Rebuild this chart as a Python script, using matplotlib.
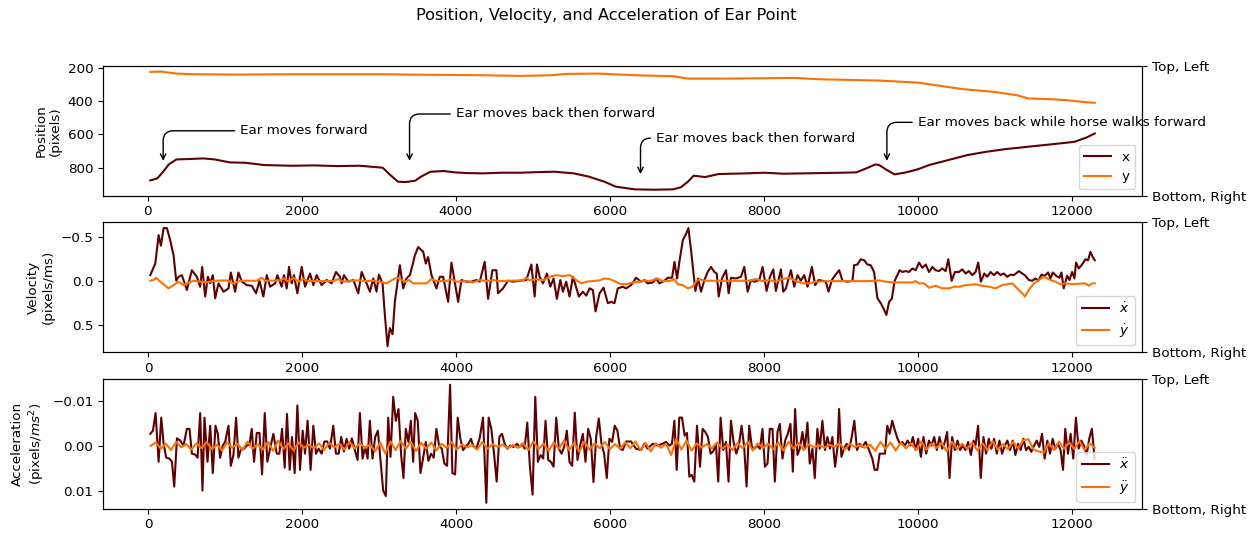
import numpy as np
import matplotlib
matplotlib.use("Agg")
import matplotlib.pyplot as plt

plt.rcParams["font.size"] = 9.7

# ---------------- data ----------------
# Position (pixels)
t_pos_x = [33, 124, 200, 273, 372, 521, 620, 720, 868, 1067, 1265, 1514, 1861, 2159, 2457, 2754,
           3052, 3151, 3250, 3350, 3474, 3548, 3672, 3846, 3995, 4144, 4343, 4591, 4839, 5087,
           5285, 5534, 5732, 5931, 6080, 6328, 6576, 6824, 6923, 7016, 7090, 7239, 7413, 7761,
           8010, 8259, 8507, 8756, 9004, 9203, 9352, 9451, 9501, 9600, 9700, 9849, 9998, 10147,
           10396, 10644, 10893, 11141, 11390, 11638, 11887, 12036, 12185, 12300]
pos_x = [876, 864, 824, 780, 750, 748, 746, 744, 750, 768, 770, 784, 788, 786, 790, 788,
         800, 844, 884, 886, 878, 854, 824, 820, 828, 832, 834, 830, 830, 826,
         824, 834, 854, 884, 914, 930, 932, 930, 918, 884, 848, 856, 838, 834,
         830, 836, 834, 832, 830, 828, 800, 780, 784, 814, 840, 828, 810, 784,
         754, 724, 704, 688, 676, 664, 652, 644, 620, 594]

t_pos_y = [33, 174, 273, 372, 620, 1117, 1861, 2854, 3102, 3350, 3846, 4343, 4839, 5236, 5434,
           5832, 6328, 6824, 7016, 7513, 8408, 8706, 9501, 9998, 10296, 10594, 10992, 11290,
           11439, 11737, 11936, 12135, 12300]
pos_y = [224, 222, 228, 234, 238, 240, 238, 238, 238, 240, 242, 244, 248, 244, 236,
         234, 244, 250, 264, 264, 260, 268, 276, 288, 308, 328, 344, 364,
         384, 388, 394, 404, 410]

# Velocity (pixels/ms)
t_vx = [29, 94, 137, 167, 202, 245, 288, 331, 366, 396, 439, 504, 569, 634, 677, 703, 742, 777, 807,
        841, 872, 915, 980, 1045, 1075, 1131, 1174, 1218, 1282, 1347, 1403, 1447, 1498, 1542, 1585,
        1650, 1680, 1736, 1766, 1801, 1831, 1866, 1896, 1939, 1996, 2039, 2104, 2147, 2190, 2255,
        2320, 2385, 2441, 2493, 2515, 2545, 2601, 2666, 2731, 2774, 2839, 2882, 2925, 2968, 2999,
        3046, 3076, 3111, 3141, 3176, 3206, 3236, 3271, 3314, 3357, 3401, 3435, 3466, 3509, 3574,
        3608, 3638, 3682, 3746, 3790, 3833, 3898, 3941, 3984, 4028, 4071, 4136, 4200, 4265, 4308,
        4373, 4417, 4473, 4525, 4546, 4611, 4676, 4741, 4827, 4914, 4979, 5022, 5052, 5087, 5130,
        5182, 5225, 5268, 5311, 5355, 5389, 5432, 5475, 5519, 5553, 5596, 5649, 5692, 5735, 5778,
        5813, 5865, 5917, 5973, 6016, 6059, 6102, 6167, 6211, 6275, 6340, 6405, 6448, 6491,
        6557, 6600, 6643, 6708, 6751, 6807, 6838, 6872, 6902, 6946, 6989, 7019, 7054, 7084, 7110,
        7145, 7183, 7227, 7270, 7313, 7356, 7387, 7413, 7456, 7508, 7542, 7573, 7637, 7702, 7745,
        7789, 7832, 7875, 7940, 7983, 8035, 8078, 8122, 8156, 8221, 8251, 8286, 8351, 8394, 8437,
        8480, 8524, 8567, 8623, 8666, 8710, 8761, 8805, 8839, 8883, 8926, 8978, 9021, 9086, 9150,
        9172, 9215, 9258, 9302, 9345, 9388, 9431, 9475, 9518, 9561, 9591, 9626, 9661, 9699, 9734,
        9764, 9799, 9842, 9885, 9929, 9972, 10015, 10058, 10102, 10145, 10188, 10231, 10274, 10318,
        10361, 10395, 10439, 10482, 10534, 10577, 10620, 10663, 10707, 10750, 10784, 10819, 10862,
        10901, 10944, 10988, 11031, 11074, 11117, 11161, 11204, 11247, 11312, 11355, 11398, 11442,
        11485, 11528, 11563, 11606, 11649, 11692, 11722, 11753, 11796, 11839, 11865, 11895, 11939,
        11969, 12004, 12034, 12055, 12090, 12133, 12177, 12211, 12241, 12272, 12298]
vx = [-0.064, -0.196, -0.52, -0.40, -0.60, -0.60, -0.46, -0.29, 0.0, -0.045, -0.064, 0.105, -0.12,
      -0.045, 0.068, -0.158, 0.18, -0.045, 0.03, -0.064, 0.2, 0.03, 0.125, 0.087, -0.094, 0.125,
      -0.094, 0.01, 0.05, 0.057, 0.143, 0.0, 0.18, -0.064, 0.068, 0.03, -0.064, 0.068, -0.064,
      0.087, -0.158, 0.03, -0.064, 0.143, -0.158, 0.068, -0.083, 0.05, -0.064, 0.05, -0.008, 0.03,
      -0.1, -0.045, 0.03, -0.064, 0.01, -0.008, 0.143, -0.1, 0.03, 0.125, -0.026, 0.125, -0.07,
      0.03, 0.39, 0.747, 0.54, 0.61, 0.24, 0.05, -0.177, 0.087, -0.026, -0.064, -0.177, -0.29,
      -0.385, -0.33, -0.196, -0.27, -0.064, 0.087, -0.045, -0.045, 0.24, -0.207, 0.011, 0.24,
      -0.008, 0.011, 0.011, -0.008, 0.011, -0.215, 0.207, -0.12, -0.12, 0.143, 0.087, 0.0, 0.011,
      0.0, -0.008, -0.185, 0.18, -0.185, -0.045, 0.03, -0.083, 0.068, -0.026, 0.207, -0.008, 0.125,
      0.011, 0.18, -0.045, 0.05, 0.18, 0.125, 0.17, 0.087, 0.105, 0.35, 0.143, 0.079, 0.256, 0.24,
      0.256, 0.087, 0.068, 0.087, 0.05, -0.034, 0.011, -0.008, 0.03,
      0.02, -0.026, 0.03, 0.0, -0.034, -0.034, -0.215, -0.026, -0.215, -0.46, -0.535, -0.60, -0.347,
      -0.10, 0.117, -0.026, 0.125, -0.008, -0.10, -0.158, -0.10, -0.083, 0.18, -0.026, -0.12,
      0.143, -0.034, -0.026, -0.045, -0.158, 0.125, -0.008, 0.011, -0.008, -0.158, 0.117, -0.045,
      -0.13, 0.117, -0.13, 0.125, 0.087, -0.12, 0.068, -0.064, 0.0, -0.064, 0.068, -0.158, 0.05,
      -0.008, 0.0, 0.011, 0.125, -0.008, -0.064, -0.12, 0.0, 0.011, 0.0, -0.177, -0.185, -0.245,
      -0.234, -0.185, -0.177, -0.10, 0.2, 0.256, 0.33, 0.39, 0.24, 0.207, 0.0, -0.064, -0.12,
      -0.10, -0.11, -0.10, -0.14, -0.12, -0.207, -0.147, -0.185, -0.10, -0.158, -0.12, -0.11,
      -0.14, -0.11, -0.245, 0.0, -0.10, -0.10, -0.13, -0.083, -0.11, -0.064, -0.10, -0.207, 0.011,
      -0.083, -0.045, -0.10, -0.064, -0.10, -0.064, -0.083, -0.045, -0.07, -0.064, -0.11, -0.083,
      -0.057, -0.008, 0.0, -0.026, 0.0, -0.07, -0.057, -0.094, -0.026, -0.094, -0.057, -0.034,
      -0.094, 0.087, -0.057, -0.008, -0.10, -0.026, -0.207, -0.14, -0.185, -0.245, -0.234, -0.33,
      -0.27, -0.234]

t_vy = [29, 72, 106, 150, 202, 266, 331, 396, 461, 526, 591, 677, 764, 850, 1023, 1109, 1196, 1412,
        1477, 1520, 1715, 1766, 1823, 1888, 1952, 2017, 2082, 2406, 2471, 2536, 2709, 2839, 2925,
        3012, 3098, 3163, 3228, 3271, 3336, 3392, 3444, 3617, 3682, 3746, 3876, 3941, 4006, 4136,
        4222, 4308, 4395, 4481, 4568, 4698, 4871, 4914, 4957, 5044, 5130, 5216, 5303, 5389, 5475,
        5562, 5627, 5692, 5778, 5865, 5930, 5995, 6059, 6124, 6211, 6297, 6384, 6448, 6513, 6621,
        6686, 6773, 6838, 6881, 6946, 7011, 7075, 7119, 7162, 7227, 7551, 7810, 7897, 7983, 8070,
        8156, 8243, 8329, 8416, 8502, 8588, 8675, 8848, 9021, 9194, 9367, 9496, 9583, 9669, 9799,
        9929, 9972, 10015, 10080, 10145, 10231, 10318, 10404, 10469, 10534, 10620, 10750, 10836,
        10923, 11009, 11096, 11226, 11290, 11355, 11390, 11442, 11507, 11571, 11636, 11679, 11722,
        11787, 11852, 11917, 12004, 12090, 12177, 12220, 12263, 12298]
vy = [0.0, -0.008, -0.034, 0.004, 0.04, 0.087, 0.05, 0.011, 0.05, 0.023, 0.0, 0.011, 0.019, 0.0,
      -0.004, 0.03, 0.0, 0.0, -0.034, 0.0, -0.004, -0.026, 0.011, -0.034, 0.011, -0.019, 0.004,
      0.004, -0.019, 0.011, -0.004, 0.004, 0.0, 0.011, 0.03, -0.004, -0.034, -0.019, 0.011, -0.008,
      0.03, 0.03, -0.019, 0.004, 0.004, -0.019, 0.011, 0.004, 0.019, -0.008, 0.004, -0.008, 0.004,
      0.0, -0.004, -0.034, -0.004, -0.019, -0.004, -0.045, -0.064, -0.053, -0.064, -0.008, 0.03,
      0.011, 0.004, -0.004, -0.026, -0.019, 0.004, 0.034, 0.04, 0.019, 0.011, -0.004, 0.004,
      -0.026, 0.004, 0.004, -0.019, 0.04, 0.05, 0.087, 0.068, 0.011, -0.019, 0.0, 0.0, 0.0,
      -0.019, 0.004, -0.008, 0.011, -0.019, -0.034, 0.004, 0.03, 0.03, 0.011, 0.004, 0.004, 0.004,
      0.004, -0.004, 0.011, 0.019, 0.019, 0.019, 0.004, 0.03, 0.03, 0.079, 0.057, 0.087, 0.087,
      0.068, 0.068, 0.05, 0.04, 0.057, 0.068, 0.087, 0.05, 0.03, 0.087, 0.143, 0.18, 0.105, 0.03,
      -0.008, -0.045, -0.026, -0.008, 0.011, 0.04, 0.03, 0.04, 0.034, 0.03, 0.057, 0.03, 0.03]

# Acceleration (1e-3 pixels/ms^2)
t_acc_x = [29, 63, 98, 137, 171, 202, 236, 279, 310, 340, 375, 418, 461, 504, 539, 569, 612, 643,
           677, 707, 733, 772, 807, 841, 876, 906, 936, 971, 1001, 1045, 1075, 1109, 1144, 1174,
           1209, 1248, 1282, 1317, 1347, 1377, 1412, 1447, 1481, 1516, 1550, 1585, 1628, 1672, 1706,
           1741, 1775, 1805, 1840, 1870, 1905, 1940, 1974, 2009, 2039, 2073, 2112, 2147, 2182, 2216,
           2255, 2290, 2329, 2363, 2406, 2441, 2476, 2510, 2545, 2579, 2614, 2648, 2687, 2722, 2752,
           2787, 2821, 2852, 2882, 2916, 2951, 2986, 3020, 3055, 3089, 3120, 3150, 3185, 3219, 3254,
           3288, 3318, 3349, 3383, 3414, 3444, 3470, 3504, 3539, 3574, 3608, 3643, 3677, 3712, 3746,
           3781, 3816, 3850, 3885, 3924, 3954, 3989, 4023, 4058, 4092, 4127, 4162, 4196, 4222, 4265,
           4308, 4352, 4395, 4425, 4460, 4495, 4529, 4564, 4599, 4633, 4668, 4706, 4750, 4793, 4827,
           4862, 4892, 4927, 4961, 4996, 5031, 5065, 5100, 5134, 5164, 5199, 5233, 5268, 5303, 5337,
           5372, 5406, 5441, 5475, 5510, 5544, 5579, 5614, 5649, 5683, 5718, 5752, 5787, 5822, 5856,
           5891, 5925, 5960, 5994, 6029, 6063, 6098, 6133, 6167, 6211, 6275, 6340, 6405, 6448, 6491,
           6557, 6621, 6686, 6730, 6773, 6807, 6838, 6868, 6902, 6937, 6972, 7002, 7032, 7062, 7097,
           7132, 7171, 7205, 7240, 7274, 7309, 7343, 7378, 7408, 7439, 7473, 7508, 7542, 7573, 7607,
           7642, 7676, 7711, 7745, 7776, 7810, 7845, 7879, 7914, 7949, 7983, 8014, 8048, 8078, 8113,
           8143, 8178, 8208, 8243, 8277, 8312, 8346, 8377, 8407, 8437, 8467, 8502, 8532, 8567, 8597,
           8632, 8662, 8696, 8727, 8761, 8796, 8826, 8861, 8891, 8926, 8960, 8978, 9008, 9042, 9077,
           9107, 9142, 9176, 9211, 9245, 9280, 9323, 9367, 9410, 9440, 9475, 9505, 9540, 9574, 9604,
           9635, 9669, 9704, 9738, 9768, 9799, 9833, 9868, 9907, 9937, 9972, 10006, 10041, 10075,
           10110, 10145, 10179, 10214, 10248, 10283, 10318, 10352, 10382, 10413, 10447, 10482, 10517,
           10551, 10586, 10620, 10655, 10690, 10724, 10750, 10784, 10819, 10854, 10888, 10923, 10957,
           10992, 11027, 11061, 11096, 11131, 11165, 11200, 11234, 11269, 11303, 11338, 11373, 11407,
           11442, 11476, 11511, 11546, 11580, 11615, 11649, 11684, 11719, 11753, 11787, 11822, 11856,
           11887, 11917, 11952, 11986, 12021, 12055, 12090, 12125, 12159, 12194, 12228, 12263, 12298]
acc_x_milli = [-2.7, -3.4, -7.3, 3.5, -6.3, -0.5, 2.6, 2.8, 3.5, 9.0, -1.7, -1.2, -0.1, -3.8, -3.8,
               1.7, 1.9, 2.6, -7.3, 9.9, -6.3, 3.5, -4.5, 6.0, -4.5, -2.7, 2.6, -0.1, -0.9, -4.5,
               4.4, 2.0, -6.3, 2.6, 0.6, 0.6, -0.1, -0.3, -3.8, 3.5, -2.9, -2.9, 6.3, -7.3, 3.5, 0.6,
               -2.7, 1.7, 1.7, -3.8, 4.8, -7.1, 5.3, -2.0, 6.0, -9.0, 5.3, -3.4, 1.7, -5.6, 5.3, -4.5,
               1.7, 0.6, 1.7, -1.0, -1.0, 0.6, -4.5, 1.7, 1.7, -2.0, 1.2, -1.6, 0.6, -1.7, 0.9, 3.1,
               -7.3, 2.8, 0.2, 2.8, -5.6, 2.8, -2.0, -3.4, 3.1, 9.9, 11.1, -6.3, 2.4, -10.9, -5.6,
               -8.2, 2.0, 7.1, -3.8, -0.9, -5.6, 3.5, -7.3, -5.6, 6.0, 2.6, -0.9, 3.3, 1.7, 2.6, -3.8,
               -0.1, 0.6, 3.9, 4.4, -13.6, 6.0, 6.3, -6.3, -1.6, 0.9, 0.2, -0.5, -1.6, -0.1, 0.6,
               -1.7, -6.3, 12.6, -6.3, -3.8, 1.7, 7.9, -2.0, -2.7, -0.5, 0.6, -0.1, 0.2, -0.5, 0.2,
               -0.5, 0.6, -5.2, 4.6, 10.8, -10.9, 3.5, 2.0, 2.8, -5.6, 3.1, 3.5, 4.6, -6.3, 0.6,
               1.7, 0.2, -3.4, 3.5, 4.4, -7.4, 3.1, -0.1, -2.7, 3.5, -3.8, -1.6, 8.0, -2.0, -6.1,
               -0.5, 1.7, 7.1, -1.6, -0.9, -4.5, -3.4, 0.6, 0.9, -1.0, -1.0, 0.6, 0.9, -0.5, 0.6,
               -0.5, -0.1, -0.5, -0.9, -0.1, -0.5, -5.6, 5.3, -6.3, -6.3, -2.3, -2.9, 6.8, 6.4, 7.9,
               -4.5, 4.6, -3.8, -3.1, -2.0, 1.7, 1.2, -0.5, 7.9, -6.3, 0.9, -0.9, 7.9, -5.6, -0.9,
               1.7, -0.1, -4.5, 0.2, 9.0, -4.5, 0.2, 0.6, -0.1, 0.6, -3.8, 4.6, 3.9, -3.8, -3.8,
               7.9, -3.1, -4.9, 2.8, -1.2, -2.7, -4.9, 5.7, -8.2, 2.0, 0.6, -3.1, 0.6, -5.2, 3.9,
               0.6, 7.1, -3.8, 0.6, -5.6, 0.9, -2.0, 0.6, -2.0, 4.6, -0.1, -8.2, 2.4, 0.6, -0.5,
               0.9, -2.0, -5.6, 0.9, -0.5, 0.2, -0.9, 0.9, 2.8, 5.3, 5.3, 1.7, 1.7, 1.7, -4.5,
               -2.7, -5.6, -3.4, -1.6, -0.5, -0.9, -0.1, -1.2, -0.1, -2.0, 0.9, -1.6, 2.4, -2.0,
               1.7, -1.2, -0.1, -2.0, 0.9, -2.0, 0.6, -0.9, -3.1, 7.1, -2.0, 0.9, -1.2,
               0.9, -0.1, 0.9, -0.9, 2.0, -1.2, -0.1, -4.5, 7.1, -2.0, 1.7, -1.6, 0.6,
               -1.6, 1.7, -1.2, 1.7, -0.1, -1.2, 0.9, -1.2, 2.0, -0.5, 0.9, -1.6, 0.9,
               0.2, 1.3, -0.1, -1.2, 0.2, -2.7, 2.8, -1.2, 1.7, -1.6, 0.6, -0.5, 0.9,
               5.3, -3.8, 1.7, -2.7, 2.8, -6.3, 0.6, -1.2, -0.1, 2.0, -1.6, -3.8, 2.8]

acc_y_milli = [0.0, -0.8, 0.6, -0.5, 0.9, -0.9, 0.3, -0.4, 0.8, -0.6, 0.5,
               -0.9, 0.7, -0.3, 1.0, -0.8, 0.4, -0.5, 0.9, -1.0, 0.6,
               -0.4, 0.8, -0.9, 1.1, -1.2, 0.7, -0.6, 1.0, -0.8, 0.4,
               -0.3, 0.5, -0.6, 0.9, -0.7, 0.3, -0.5, 0.8, -0.9, 0.5,
               -0.6, 0.4, -0.3, 1.2, -0.8, 1.7, -1.0, 0.9, -1.1, 0.6,
               -0.9, 1.1, -0.7, 0.6, -0.8, 1.0, -0.5, 0.4, -0.9, 0.8,
               -0.3, 0.3, -0.2, 0.8, -0.9, 0.6, -0.4, 0.2, -0.3, 0.5,
               -0.2, 0.4, -0.6, 0.9, -1.0, 0.7, -0.5, 1.1, -0.8, 0.6,
               -1.2, 0.9, -0.7, 1.3, -1.0, 0.8, -0.6, 0.5, -0.9, 0.7,
               -0.4, 0.6, -0.8, 0.5, -1.0, 0.9, -0.7, 1.2, -0.6, 0.4,
               -0.5, 2.0, -1.5, 0.8, -1.2, 1.0, -0.6, 0.3, -0.4, 0.5,
               -0.8, 0.6, -0.3, 0.9, -0.7, 0.5, -0.9, 1.0, -0.6, 0.4,
               -0.5, 0.7, -0.8, 1.0, -0.9, 0.6, -0.7, 0.9, -0.4, 0.3,
               -0.2, 0.4, -0.3, 0.2, -0.6, 0.8, -0.5, 0.3, -0.2, 0.4,
               -0.3, 1.1, -0.9, 0.6, -0.8, 1.0, -0.7, 0.5, -0.6, 0.9,
               -1.0, 0.8, -0.5, 0.4, -0.7, 1.2, -0.9, 0.7, -0.5, 0.6,
               -0.8, 1.0, -0.6, 0.9, -1.1, 0.8, -0.4, 0.7, -0.9, 0.5,
               -1.3, -1.5, 0.8, 1.2, 1.5, -0.6, 0.9, -1.0, 0.6, -0.8,
               0.7, -1.1, 0.9, -0.6, 0.4]
t_acc_y = np.linspace(33, 12300, len(acc_y_milli))

annotations = [
    ("Ear moves forward", (200, 775), (1200, 578)),
    ("Ear moves back then forward", (3400, 775), (4000, 477)),
    ("Ear moves back then forward", (6400, 855), (6600, 622)),
    ("Ear moves back while horse walks forward", (9600, 775), (10000, 527)),
]

side_labels = ["Bottom, Right", "Top, Left"]
title = "Position, Velocity, and Acceleration of Ear Point"
c_x = "#600000"
c_y = "#ff7000"

# ---------------- figure ----------------
fig, axes = plt.subplots(3, 1, figsize=(12.57, 5.37), dpi=100)
fig.subplots_adjust(left=0.082, right=0.9085, top=0.8777, bottom=0.0527, hspace=0.205)
fig.suptitle(title, x=0.482, y=0.985, fontsize=11.6)

ax1, ax2, ax3 = axes
ax1.plot(t_pos_x, pos_x, color=c_x, label="x")
ax1.plot(t_pos_y, pos_y, color=c_y, label="y")
ax1.invert_yaxis()
ax1.set_ylabel("Position\n(pixels)")
ax1.legend(loc="lower right")
for text, xy, xytext in annotations:
    ax1.annotate(text, xy=xy, xytext=xytext, va="center", ha="left",
                 arrowprops=dict(arrowstyle="->", color="black",
                                 connectionstyle="angle,angleA=0,angleB=90,rad=10"))

ax2.plot(t_vx, vx, color=c_x, label=r"$\dot{x}$")
ax2.plot(t_vy, vy, color=c_y, label=r"$\dot{y}$")
ax2.invert_yaxis()
ax2.set_ylabel("Velocity\n(pixels/ms)")
ax2.legend(loc="lower right")

ax3.plot(t_acc_x, np.array(acc_x_milli) * 1e-3, color=c_x, label=r"$\ddot{x}$")
ax3.plot(t_acc_y, np.array(acc_y_milli) * 1e-3, color=c_y, label=r"$\ddot{y}$")
ax3.invert_yaxis()
ax3.set_ylabel("Acceleration\n(pixels/$ms^2$)")
ax3.legend(loc="lower right")

for ax in axes:
    tw = ax.twinx()
    tw.set_ylim(0, 1)
    tw.set_yticks([0, 1])
    tw.set_yticklabels(side_labels)

fig.savefig("out.png", dpi=100)
